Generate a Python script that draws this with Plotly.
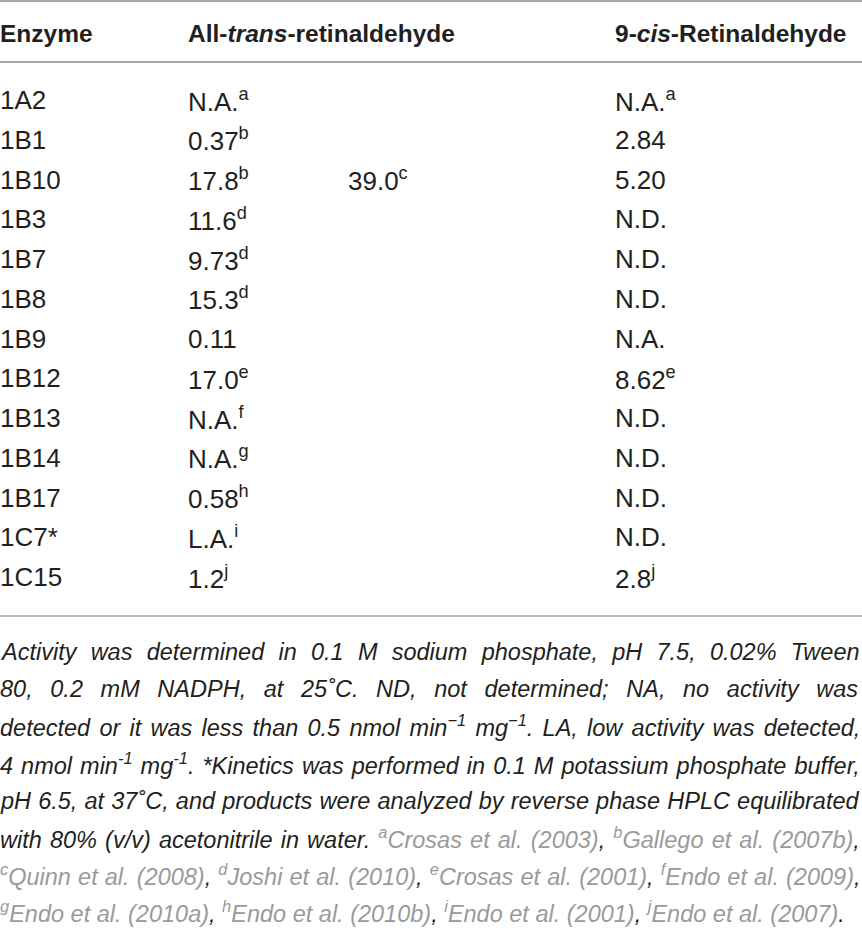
import plotly.graph_objects as go

# table content
headers = ["Enzyme", "All-<i>trans</i>-retinaldehyde", "9-<i>cis</i>-Retinaldehyde"]
enzymes = ["1A2", "1B1", "1B10", "1B3", "1B7", "1B8", "1B9", "1B12",
           "1B13", "1B14", "1B17", "1C7*", "1C15"]
all_trans = ["N.A.", "0.37", "17.8", "11.6", "9.73", "15.3", "0.11", "17.0",
             "N.A.", "N.A.", "0.58", "L.A.", "1.2"]
all_trans_sup = ["a", "b", "b", "d", "d", "d", "", "e", "f", "g", "h", "i", "j"]
all_trans_2 = ["", "", "39.0", "", "", "", "", "", "", "", "", "", ""]
all_trans_2_sup = ["", "", "c", "", "", "", "", "", "", "", "", "", ""]
nine_cis = ["N.A.", "2.84", "5.20", "N.D.", "N.D.", "N.D.", "N.A.", "8.62",
            "N.D.", "N.D.", "N.D.", "N.D.", "2.8"]
nine_cis_sup = ["a", "", "", "", "", "", "", "e", "", "", "", "", "j"]

GRAY = "#9a9a9a"


def ref(sup, name):
    return f"<span style='color:{GRAY}'><sup>{sup}</sup>{name}</span>"


footnote_lines = [
    "Activity was determined in 0.1 M sodium phosphate, pH 7.5, 0.02% Tween",
    "80, 0.2 mM NADPH, at 25˚C. ND, not determined; NA, no activity was",
    "detected or it was less than 0.5 nmol min<sup>−1</sup> mg<sup>−1</sup>. LA, low activity was detected,",
    "4 nmol min<sup>-1</sup> mg<sup>-1</sup>. *Kinetics was performed in 0.1 M potassium phosphate buffer,",
    "pH 6.5, at 37˚C, and products were analyzed by reverse phase HPLC equilibrated",
    "with 80% (v/v) acetonitrile in water. " + ref("a", "Crosas et al. (2003)") + ", "
    + ref("b", "Gallego et al. (2007b)") + ",",
    ref("c", "Quinn et al. (2008)") + ", " + ref("d", "Joshi et al. (2010)") + ", "
    + ref("e", "Crosas et al. (2001)") + ", " + ref("f", "Endo et al. (2009)") + ",",
    ref("g", "Endo et al. (2010a)") + ", " + ref("h", "Endo et al. (2010b)") + ", "
    + ref("i", "Endo et al. (2001)") + ", " + ref("j", "Endo et al. (2007)") + ".",
]
# extra word spacing (px) to justify each footnote line
word_gap = [7.7, 11.1, 2.7, 1.5, 0.6, 1.6, 0.6, 0]

W, H = 862, 929
TXT = "#231f20"
col_x = [0, 188, 348, 615]
header_y = 33
row_y0, row_step = 100, 39.75
foot_y0, foot_step = 652, 37.2

fig = go.Figure()
fig.add_trace(go.Scatter(x=[0, W], y=[0, H], mode="markers",
                         marker=dict(opacity=0), hoverinfo="skip", showlegend=False))

ann = []
hfont = dict(family="Liberation Sans, Arial, sans-serif", size=24.5, color=TXT)
for h, x in zip(headers, [col_x[0], col_x[1], col_x[3]]):
    ann.append(dict(x=x, y=header_y, text=f"<b>{h}</b>", font=hfont))

bfont = dict(family="Liberation Sans, Arial, sans-serif", size=26, color=TXT)


def cell(v, s):
    return v + (f"<sup>{s}</sup>" if s else "")


for i, enz in enumerate(enzymes):
    y = row_y0 + i * row_step
    ann.append(dict(x=col_x[0], y=y, text=enz, font=bfont))
    ann.append(dict(x=col_x[1], y=y, text=cell(all_trans[i], all_trans_sup[i]), font=bfont))
    if all_trans_2[i]:
        ann.append(dict(x=col_x[2], y=y, text=cell(all_trans_2[i], all_trans_2_sup[i]), font=bfont))
    ann.append(dict(x=col_x[3], y=y, text=cell(nine_cis[i], nine_cis_sup[i]), font=bfont))

ffont = dict(family="Liberation Sans, sans-serif", size=23.5, color=TXT)
for k, line in enumerate(footnote_lines):
    txt = f"<span style='word-spacing:{word_gap[k]}px'><i>{line}</i></span>"
    ann.append(dict(x=0, y=foot_y0 + k * foot_step, text=txt, font=ffont))

for a in ann:
    a.update(xref="x", yref="y", xanchor="left", yanchor="middle", showarrow=False, xshift=-2)

shapes = [
    dict(type="line", x0=0, x1=W, y0=1, y1=1, line=dict(color="#a6a6a6", width=2)),
    dict(type="line", x0=0, x1=W, y0=62, y1=62, line=dict(color="#a6a6a6", width=2)),
    dict(type="line", x0=0, x1=W, y0=616, y1=616, line=dict(color="#a6a6a6", width=1.5)),
]
for s in shapes:
    s.update(xref="x", yref="y")

fig.update_layout(
    width=W, height=H,
    margin=dict(l=0, r=0, t=0, b=0),
    paper_bgcolor="white", plot_bgcolor="white",
    xaxis=dict(range=[0, W], visible=False, fixedrange=True),
    yaxis=dict(range=[H, 0], visible=False, fixedrange=True),
    annotations=ann, shapes=shapes,
)

fig.write_html("out.html", config={"displayModeBar": False},
               post_script="document.body.style.margin='0px';")
